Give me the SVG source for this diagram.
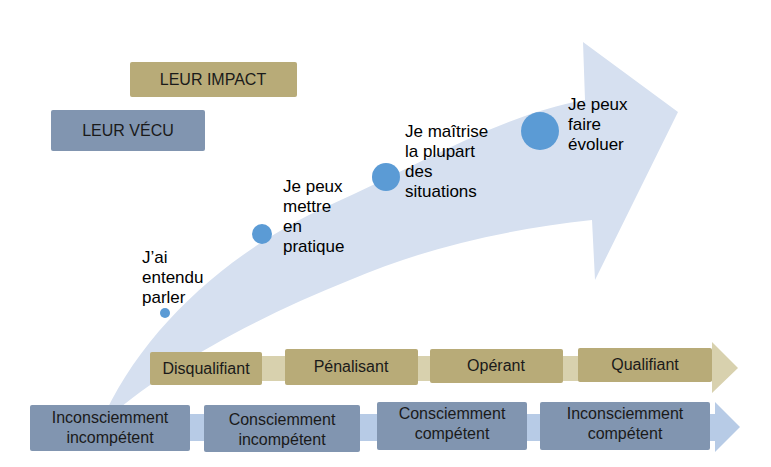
<svg xmlns="http://www.w3.org/2000/svg" width="771" height="467" viewBox="0 0 771 467">
<style>
.t{font-family:"Liberation Sans",Arial,sans-serif;font-size:17px;fill:#000}
.b{font-family:"Liberation Sans",Arial,sans-serif;font-size:16px;fill:#1a1a1a;text-anchor:middle}
.k{fill:#b8ab78}
.u{fill:#8195b0}
.d{fill:#5b9bd5}
</style>
<rect width="771" height="467" fill="#fff"/>
<g id="arrow">
<path d="M100,425 C140,330 230,250 330,205 C420,165 500,115 585,100 L583,42 L678,112 L595,280 L592,220 C500,230 420,250 350,280 C250,320 160,370 100,425 Z" fill="#d6e0f0"/>
</g>
<g id="impact"><rect x="130" y="62" width="167" height="35" rx="2" class="k"/><text class="b" x="213" y="85">LEUR IMPACT</text></g>
<g id="vecu"><rect x="51" y="110" width="154" height="41" rx="2" class="u"/><text class="b" x="128" y="136">LEUR VÉCU</text></g>
<g id="s1"><circle cx="165" cy="313" r="5" class="d"/><text class="t" x="142" y="263">J’ai<tspan x="142" dy="20">entendu</tspan><tspan x="142" dy="20">parler</tspan></text></g>
<g id="s2"><circle cx="262" cy="234" r="10" class="d"/><text class="t" x="283" y="192">Je peux<tspan x="283" dy="20">mettre</tspan><tspan x="283" dy="20">en</tspan><tspan x="283" dy="20">pratique</tspan></text></g>
<g id="s3"><circle cx="386" cy="177" r="14" class="d"/><text class="t" x="405" y="137">Je maîtrise<tspan x="405" dy="20">la plupart</tspan><tspan x="405" dy="20">des</tspan><tspan x="405" dy="20">situations</tspan></text></g>
<g id="s4"><circle cx="540" cy="131" r="19" class="d"/><text class="t" x="568" y="110">Je peux<tspan x="568" dy="20">faire</tspan><tspan x="568" dy="20">évoluer</tspan></text></g>
<g id="connectors">
<path d="M150,356 H712 V342 L738,368 L712,393 V381 H150 Z" fill="#d8d1ae"/>
<path d="M30,414 H715 V402 L740,427 L715,452 V441 H30 Z" fill="#b7cbe6"/>
</g>
<g id="k1"><rect x="150" y="352" width="112" height="33" rx="2" class="k"/><text class="b" x="206" y="374">Disqualifiant</text></g>
<g id="k2"><rect x="285" y="349" width="133" height="36" rx="2" class="k"/><text class="b" x="351" y="372">Pénalisant</text></g>
<g id="k3"><rect x="430" y="349" width="133" height="34" rx="2" class="k"/><text class="b" x="496" y="371">Opérant</text></g>
<g id="k4"><rect x="578" y="348" width="134" height="34" rx="2" class="k"/><text class="b" x="645" y="370">Qualifiant</text></g>
<g id="u1"><rect x="30" y="405" width="160" height="46" rx="2" class="u"/><text class="b" x="110" y="423">Inconsciemment<tspan x="110" dy="20">incompétent</tspan></text></g>
<g id="u2"><rect x="204" y="405" width="156" height="47" rx="2" class="u"/><text class="b" x="282" y="425">Consciemment<tspan x="282" dy="20">incompétent</tspan></text></g>
<g id="u3"><rect x="377" y="402" width="150" height="48" rx="2" class="u"/><text class="b" x="452" y="419">Consciemment<tspan x="452" dy="20">compétent</tspan></text></g>
<g id="u4"><rect x="540" y="402" width="170" height="48" rx="2" class="u"/><text class="b" x="625" y="419">Inconsciemment<tspan x="625" dy="20">compétent</tspan></text></g>
</svg>
